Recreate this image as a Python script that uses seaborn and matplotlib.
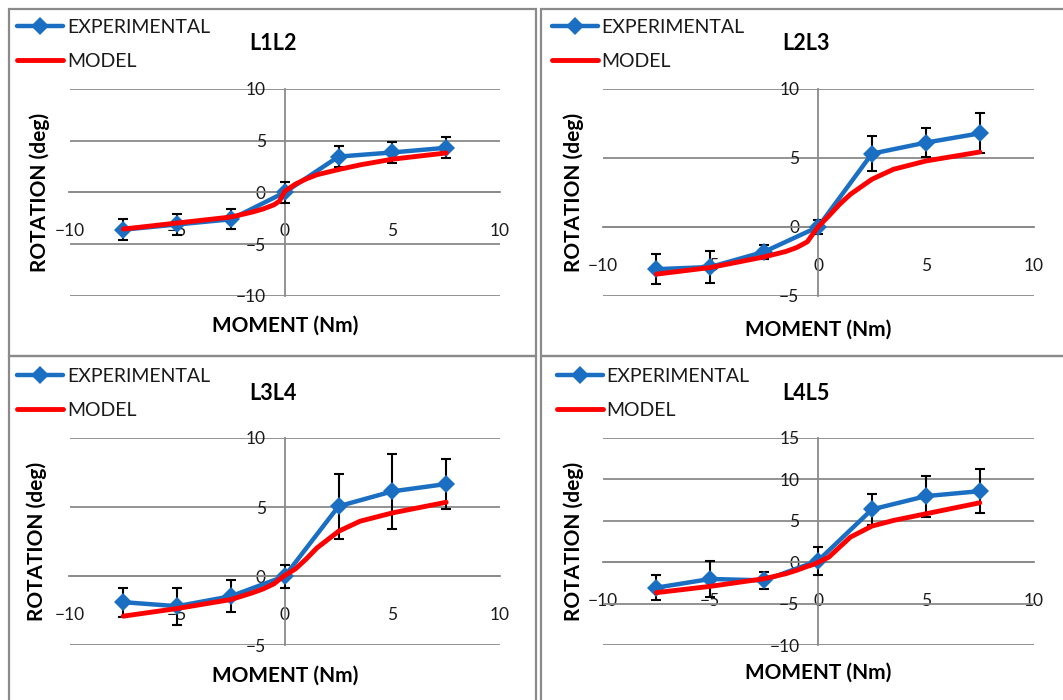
import numpy as np
import pandas as pd
import matplotlib
matplotlib.use("Agg")
import matplotlib.pyplot as plt
from matplotlib.patches import Rectangle
import seaborn as sns

# ---------------- data ----------------
moment_exp = [-7.5, -5, -2.5, 0, 2.5, 5, 7.5]
moment_model = [-7.5, -5, -2.5, -1.5, -1, -0.5, -0.25, 0, 0.5, 1, 1.5, 2.5, 3.5, 5, 7.5]

titles = ["L1L2", "L2L3", "L3L4", "L4L5"]

exp_l1l2 = [-3.6, -3.1, -2.6, 0.0, 3.45, 3.85, 4.3]
err_l1l2 = [1.0, 1.0, 0.95, 1.0, 0.98, 1.0, 1.03]
model_l1l2 = [-3.54, -2.96, -2.38, -1.9, -1.6, -1.2, -0.85, 0.1, 0.8, 1.3, 1.7, 2.2, 2.65, 3.2, 3.8]

exp_l2l3 = [-3.06, -2.9, -1.8, 0.0, 5.3, 6.1, 6.77]
err_l2l3 = [1.08, 1.15, 0.5, 0.5, 1.25, 1.05, 1.45]
model_l2l3 = [-3.42, -2.94, -2.17, -1.78, -1.5, -1.08, -0.53, 0.0, 0.8, 1.64, 2.36, 3.45, 4.17, 4.77, 5.42]

exp_l3l4 = [-1.88, -2.17, -1.45, 0.0, 5.06, 6.14, 6.67]
err_l3l4 = [1.06, 1.35, 1.17, 0.84, 2.34, 2.73, 1.8]
model_l3l4 = [-2.89, -2.34, -1.69, -1.2, -0.92, -0.55, -0.24, 0.05, 0.53, 1.25, 2.05, 3.25, 3.98, 4.58, 5.35]

exp_l4l5 = [-3.05, -2.0, -2.17, 0.2, 6.39, 7.99, 8.59]
err_l4l5 = [1.5, 2.17, 1.0, 1.7, 1.85, 2.47, 2.65]
model_l4l5 = [-3.65, -2.89, -1.97, -1.37, -0.96, -0.48, -0.28, 0.0, 0.64, 1.85, 3.05, 4.38, 5.06, 5.86, 7.19]

y_limits = [(-10, 10), (-5, 10), (-5, 10), (-10, 15)]
x_ticks = [-10, -5, 0, 5, 10]

exp_list = [exp_l1l2, exp_l2l3, exp_l3l4, exp_l4l5]
err_list = [err_l1l2, err_l2l3, err_l3l4, err_l4l5]
model_list = [model_l1l2, model_l2l3, model_l3l4, model_l4l5]

# ---------------- style ----------------
sns.set_style("white")
plt.rcParams["font.family"] = ["Lato", "DejaVu Sans"]

W, H = 1063, 700
fig = plt.figure(figsize=(W / 100, H / 100), dpi=100)

BLUE = "#1b6fc2"
RED = "#ff0000"
GRAY = "#8a8a8a"
TXT = "#1a1a1a"

def fx(x):
    return x / W

def fy(y):
    return 1 - y / H

# panel frames (pixel coords: left, top, right, bottom)
panels = [(9, 9, 536, 356), (541, 9, 1070, 356), (9, 356, 536, 710), (541, 356, 1070, 710)]
for (l, t, r, b) in panels:
    fig.patches.append(Rectangle((fx(l), fy(b)), fx(r - l), (b - t) / H, transform=fig.transFigure,
                                 fill=False, edgecolor=GRAY, linewidth=1.6, zorder=0))

# axes rectangles in pixels (left, top, right, bottom)
ax_px = [(69.5, 88.7, 500, 296), (602.5, 88.7, 1033.7, 296),
         (69.5, 438, 500, 645.3), (602.5, 438, 1033.7, 645.3)]
title_px = [(272.7, 44), (806, 44), (272.7, 393), (806, 393)]
ylabel_px = [(39.6, 192.3), (574, 192.3), (37, 541.6), (574, 541.6)]
xlabel_px = [(284.8, 326), (818, 330), (284.8, 676), (818, 673)]
legend_px = [(17.3, 19), (552, 19), (17.3, 368), (557, 368)]

for i in range(4):
    l, t, r, b = ax_px[i]
    ax = fig.add_axes([fx(l), fy(b), (r - l) / W, (b - t) / H])
    ax.set_facecolor("none")
    ymin, ymax = y_limits[i]
    ax.set_xlim(-10, 10)
    ax.set_ylim(ymin, ymax)

    # error bars
    ax.errorbar(moment_exp, exp_list[i], yerr=err_list[i], fmt="none", ecolor="black",
                elinewidth=1.5, capsize=3.8, capthick=1.5, zorder=3)
    df_exp = pd.DataFrame({"MOMENT": moment_exp, "ROTATION": exp_list[i]})
    df_mod = pd.DataFrame({"MOMENT": moment_model, "ROTATION": model_list[i]})
    sns.lineplot(data=df_exp, x="MOMENT", y="ROTATION", ax=ax, color=BLUE, linewidth=3.2,
                 marker="D", markersize=9, markeredgecolor=BLUE, markeredgewidth=0,
                 label="EXPERIMENTAL", legend=False, sort=False, zorder=4)
    sns.lineplot(data=df_mod, x="MOMENT", y="ROTATION", ax=ax, color=RED, linewidth=3.5,
                 label="MODEL", legend=False, sort=False, zorder=5)

    # axes crossing at zero
    for s in ["top", "right"]:
        ax.spines[s].set_visible(False)
    ax.spines["left"].set_position(("data", 0))
    ax.spines["bottom"].set_position(("data", 0))
    for s in ["left", "bottom"]:
        ax.spines[s].set_color(GRAY)
        ax.spines[s].set_linewidth(1.3)
        ax.spines[s].set_zorder(1)
    ax.set_yticks(np.arange(ymin, ymax + 1, 5))
    ax.yaxis.grid(True, color=GRAY, linewidth=1.3, zorder=0)
    ax.set_axisbelow(True)
    ax.set_xticks(x_ticks)
    ax.tick_params(axis="x", direction="out", length=3.6, width=1.3, color=GRAY,
                   labelsize=12.5, labelcolor=TXT, pad=18.5)
    ax.tick_params(axis="y", length=0, labelsize=12.5, labelcolor=TXT, pad=13.5)

    # labels
    ax.set_xlabel("MOMENT (Nm)", fontsize=15, fontweight="bold", color="black")
    ax.set_ylabel("ROTATION (deg)", fontsize=15, fontweight="bold", color="black")
    ax.xaxis.label.set_verticalalignment("center")
    ax.yaxis.label.set_verticalalignment("center")
    ax.xaxis.set_label_coords(fx(xlabel_px[i][0]), fy(xlabel_px[i][1]), transform=fig.transFigure)
    ax.yaxis.set_label_coords(fx(ylabel_px[i][0]), fy(ylabel_px[i][1]), transform=fig.transFigure)

    fig.text(fx(title_px[i][0]), fy(title_px[i][1]), titles[i], ha="center", va="center",
             fontsize=15.5, fontweight="bold", color="black")

    handles, labels = ax.get_legend_handles_labels()
    ax.legend(handles, labels, loc="upper left",
              bbox_to_anchor=(fx(legend_px[i][0]), fy(legend_px[i][1])),
              bbox_transform=fig.transFigure, frameon=False, fontsize=14,
              handlelength=2.35, handletextpad=0.2, borderpad=0, borderaxespad=0,
              labelspacing=0.88, markerscale=1.0)
    for txt in ax.get_legend().get_texts():
        txt.set_color(TXT)

fig.savefig("out.png", dpi=100)
